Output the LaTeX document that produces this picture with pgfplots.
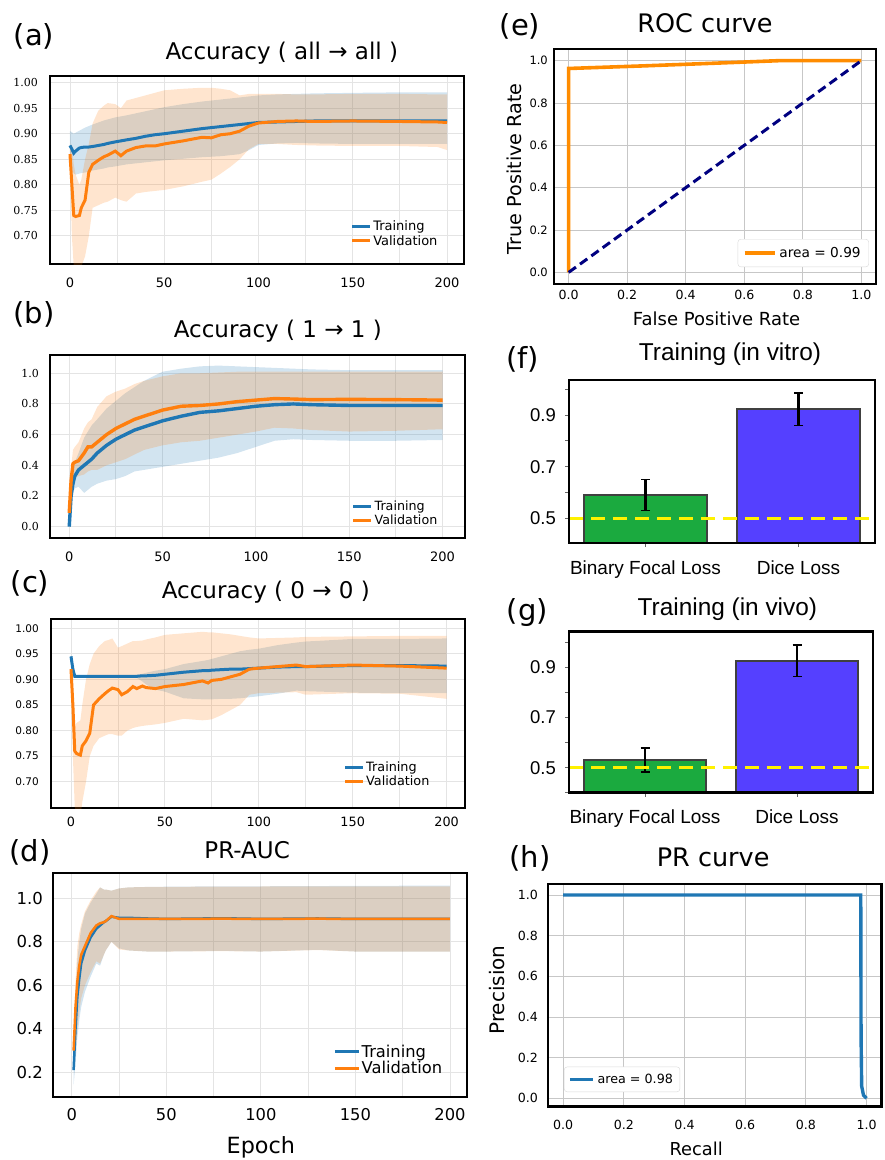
\documentclass[border=0pt]{standalone}
\usepackage{fontspec}
\setmainfont{DejaVu Sans}
\newfontfamily\dserif{DejaVu Serif}
\newfontfamily\arial{Liberation Sans}
\usepackage{pgfplots}
\usepackage{pgfplotstable}
\usepgfplotslibrary{fillbetween}
\pgfplotsset{compat=1.18}

\definecolor{tblue}{HTML}{1F77B4}
\definecolor{vorange}{HTML}{FF7F0E}
\definecolor{roc}{HTML}{FF8C00}
\definecolor{navyc}{HTML}{000080}
\definecolor{bgreen}{RGB}{27,170,63}
\definecolor{bblue}{RGB}{85,64,255}
\definecolor{gridc}{RGB}{228,228,228}
\newcommand{\fs}[1]{\fontsize{#1}{#1}\selectfont}

% epoch curves: x, training mean/low/high, validation mean/low/high
\pgfplotstableread{
x tm tlo thi vm vlo vhi
0 .877 .845 .905 .860 .850 .870
1 .870 .830 .903 .800 .700 .880
2 .862 .822 .900 .740 .640 .840
3 .866 .820 .902 .738 .620 .820
5 .872 .822 .906 .740 .630 .800
6 .873 .823 .908 .755 .640 .810
8 .874 .824 .912 .770 .660 .850
10 .874 .826 .915 .825 .700 .880
12 .875 .828 .918 .840 .755 .920
15 .877 .830 .922 .848 .760 .945
18 .879 .832 .926 .855 .765 .955
20 .881 .834 .928 .858 .767 .960
24 .884 .836 .932 .866 .775 .958
27 .886 .838 .934 .857 .770 .950
30 .888 .840 .936 .866 .767 .965
35 .891 .842 .940 .873 .783 .970
40 .895 .844 .944 .876 .786 .975
45 .898 .846 .948 .876 .788 .980
50 .900 .848 .952 .880 .790 .985
60 .905 .851 .958 .886 .797 .988
70 .910 .854 .963 .893 .806 .990
75 .912 .855 .965 .892 .810 .990
80 .914 .856 .967 .898 .822 .988
85 .916 .858 .969 .900 .835 .985
90 .918 .860 .971 .905 .850 .975
95 .920 .868 .973 .915 .870 .978
100 .922 .878 .975 .921 .880 .978
110 .923 .881 .977 .924 .880 .978
120 .924 .882 .978 .925 .878 .977
130 .925 .881 .979 .924 .877 .977
150 .925 .880 .980 .925 .876 .978
175 .925 .880 .981 .924 .876 .978
195 .925 .880 .981 .923 .874 .977
200 .925 .880 .981 .922 .868 .977
}\dA

\pgfplotstableread{
x tm tlo thi vm vlo vhi
0 .00 .00 .05 .09 .07 .12
1 .20 .15 .25 .30 .22 .38
2 .28 .22 .34 .41 .32 .50
3 .33 .25 .42 .42 .32 .52
5 .37 .26 .48 .43 .33 .55
8 .40 .22 .58 .48 .34 .64
10 .42 .24 .62 .52 .36 .68
12 .44 .26 .66 .52 .37 .70
15 .48 .28 .70 .55 .37 .78
20 .53 .30 .77 .60 .40 .85
25 .57 .31 .82 .64 .42 .88
30 .60 .33 .87 .67 .44 .90
35 .63 .36 .91 .70 .47 .93
40 .65 .37 .95 .72 .50 .95
50 .69 .39 1.01 .76 .53 .98
60 .72 .41 1.03 .785 .55 1.00
70 .745 .43 1.045 .79 .56 1.00
80 .755 .45 1.05 .80 .58 1.005
90 .77 .48 1.045 .815 .60 1.01
100 .785 .52 1.04 .825 .62 1.01
110 .795 .56 1.035 .835 .645 1.01
120 .80 .57 1.03 .832 .64 1.01
130 .795 .565 1.025 .828 .63 1.01
150 .79 .56 1.02 .83 .62 1.01
175 .79 .56 1.02 .828 .625 1.01
200 .79 .565 1.02 .825 .635 1.01
}\dB

\pgfplotstableread{
x tm tlo thi vm vlo vhi
0 .945 .943 .947 .920 .912 .928
1 .920 .918 .922 .850 .750 .900
2 .906 .904 .908 .760 .650 .810
3 .906 .904 .908 .755 .630 .815
5 .906 .904 .908 .752 .630 .820
6 .906 .904 .908 .770 .660 .850
8 .906 .904 .908 .780 .700 .900
10 .906 .904 .908 .795 .750 .930
12 .906 .904 .908 .850 .770 .950
15 .906 .904 .908 .862 .785 .965
18 .906 .904 .908 .872 .790 .975
20 .906 .904 .908 .878 .793 .977
22 .906 .904 .908 .883 .793 .980
25 .906 .904 .908 .880 .790 .962
27 .906 .904 .908 .870 .790 .965
30 .906 .904 .908 .876 .800 .970
33 .906 .904 .908 .886 .805 .975
35 .906 .903 .909 .882 .807 .975
38 .907 .896 .911 .887 .809 .976
40 .907 .890 .913 .884 .810 .978
45 .908 .880 .917 .882 .812 .982
50 .910 .876 .920 .886 .815 .987
60 .914 .863 .930 .890 .823 .990
70 .917 .861 .936 .897 .820 .993
73 .917 .861 .938 .893 .821 .992
75 .918 .861 .940 .898 .822 .992
80 .919 .862 .945 .900 .830 .990
85 .920 .862 .950 .905 .840 .988
90 .920 .863 .955 .910 .850 .985
95 .921 .865 .958 .920 .870 .982
100 .922 .867 .960 .922 .873 .980
110 .924 .872 .967 .925 .874 .981
120 .925 .878 .972 .928 .875 .982
125 .925 .877 .974 .925 .870 .983
150 .927 .874 .979 .928 .873 .984
175 .927 .873 .979 .926 .872 .985
200 .926 .873 .980 .922 .862 .985
}\dC

\pgfplotstableread{
x tm tlo thi vm vlo vhi
1 .21 .14 .27 .30 .22 .36
2 .40 .24 .55 .50 .30 .62
3 .55 .36 .72 .62 .40 .78
4 .63 .44 .80 .69 .48 .84
5 .70 .50 .86 .74 .54 .88
7 .76 .57 .93 .78 .60 .94
10 .82 .64 .98 .84 .66 .99
13 .86 .70 1.02 .875 .71 1.03
15 .875 .69 1.05 .885 .70 1.05
17 .89 .74 1.04 .89 .74 1.04
18 .895 .76 1.04 .895 .76 1.04
21 .915 .80 1.035 .918 .80 1.035
25 .91 .77 1.045 .905 .765 1.045
30 .91 .76 1.05 .905 .76 1.05
40 .907 .755 1.052 .905 .755 1.052
50 .905 .755 1.053 .905 .755 1.052
80 .908 .758 1.055 .906 .757 1.054
100 .905 .755 1.055 .905 .755 1.054
130 .907 .763 1.056 .906 .762 1.055
150 .905 .755 1.057 .905 .755 1.055
200 .905 .755 1.058 .905 .755 1.055
}\dD

\pgfplotsset{
  epochax/.style={
    scale only axis, anchor=south west,
    axis line style={line width=2.8pt},
    xtick={0,50,100,150,200}, minor xtick={25,75,125,175},
    xmajorgrids, xminorgrids, ymajorgrids,
    grid style={gridc, line width=0.9pt},
    minor grid style={gridc, line width=0.9pt},
    major tick length=0pt, minor tick length=0pt,
    /pgf/number format/assume math mode=true,
    yticklabel style={anchor=east, inner sep=0pt},
    xticklabel style={anchor=base, inner sep=0pt},
    title style={anchor=base, inner sep=0pt, font=\fs{23}},
    legend cell align=left,
    legend style={draw=none, fill=none, anchor=north west, inner sep=0pt,
      row sep=0pt, nodes={inner sep=1.5pt}},
    legend image code/.code={\draw[##1] (0pt,0pt) -- (18pt,0pt);},
  },
  curveax/.style={
    scale only axis, anchor=south west,
    axis line style={line width=2.8pt},
    xmin=-0.05, xmax=1.05,
    xtick={0,0.2,0.4,0.6,0.8,1}, ytick={0,0.2,0.4,0.6,0.8,1},
    grid=major, grid style={black!22, line width=0.9pt},
    major tick length=0pt,
    /pgf/number format/assume math mode=true,
    /pgf/number format/fixed, /pgf/number format/fixed zerofill,
    /pgf/number format/precision=1,
    yticklabel style={anchor=east, inner sep=0pt},
    xticklabel style={anchor=base, inner sep=0pt},
    title style={anchor=base, inner sep=0pt, font=\fs{25.5}},
    xlabel style={anchor=base, inner sep=0pt},
    ylabel style={anchor=base, inner sep=0pt},
    legend cell align=left,
    legend style={draw=black!15, rounded corners=3pt, nodes={inner sep=3pt}},
  },
  barax/.style={
    scale only axis, anchor=south west, axis on top,
    axis line style={line width=2.8pt},
    xmin=-0.5, xmax=1.5,
    xtick={0,1}, xticklabels={Binary Focal Loss, Dice Loss},
    ytick={0.5,0.7,0.9}, minor ytick={0.4,0.6,0.8,1.0},
    tick pos=left, tick align=outside,
    major tick length=4pt, minor tick length=4pt,
    every tick/.style={black!60, line width=0.8pt},
    /pgf/number format/assume math mode=true,
    yticklabel style={anchor=east, inner sep=0pt, xshift=-9pt, font=\arial\fs{18.5},
      /pgf/number format/fixed, /pgf/number format/fixed zerofill,
      /pgf/number format/precision=1},
    xticklabel style={anchor=base, inner sep=0pt, font=\arial\fs{19}},
    title style={anchor=base, inner sep=0pt, font=\arial\fs{24.4}},
  },
  errbar/.style={ybar, bar width=0.8, bar shift=0pt, draw=black!75, line width=1.8pt,
    error bars/.cd, y dir=both, y explicit,
    error bar style={line width=2.4pt, black},
    error mark options={rotate=90, mark size=4.5pt, line width=1.8pt, black}},
}

\begin{document}
\begin{tikzpicture}
\path (0pt,0pt) rectangle (885pt,-1160pt);

% (a)
\begin{axis}[epochax, at={(50pt,-264pt)}, width=414pt, height=188pt,
  xmin=-10.6, xmax=209, ymin=0.645, ymax=1.013,
  ytick={0.70,0.75,0.80,0.85,0.90,0.95,1.00},
  yticklabel style={font=\dserif\fs{11}, xshift=-12pt,
    /pgf/number format/fixed, /pgf/number format/fixed zerofill,
    /pgf/number format/precision=2},
  xticklabel style={font=\fs{13}, yshift=-23.75pt},
  title={Accuracy ( all → all )},
  title style={at={(axis description cs:0.56,1.0585)}},
  legend style={at={(axis description cs:0.726,0.239)}, font=\fs{13}},
]
\addplot[draw=none, forget plot, name path=ta] table[x=x, y=thi] {\dA};
\addplot[draw=none, forget plot, name path=tb] table[x=x, y=tlo] {\dA};
\addplot[fill=tblue, fill opacity=0.2, draw=none, forget plot] fill between[of=ta and tb];
\addplot[draw=none, forget plot, name path=va] table[x=x, y=vhi] {\dA};
\addplot[draw=none, forget plot, name path=vb] table[x=x, y=vlo] {\dA};
\addplot[fill=vorange, fill opacity=0.2, draw=none, forget plot] fill between[of=va and vb];
\addplot[tblue, line width=3pt] table[x=x, y=tm] {\dA};
\addplot[vorange, line width=3pt] table[x=x, y=vm] {\dA};
\legend{Training, Validation}
\end{axis}

% (b)
\begin{axis}[epochax, at={(50pt,-538pt)}, width=415pt, height=183pt,
  xmin=-10.3, xmax=212, ymin=-0.074, ymax=1.119,
  ytick={0,0.2,0.4,0.6,0.8,1.0},
  yticklabel style={font=\dserif\fs{11}, xshift=-11pt,
    /pgf/number format/fixed, /pgf/number format/fixed zerofill,
    /pgf/number format/precision=1},
  xticklabel style={font=\fs{13}, yshift=-23.75pt},
  title={Accuracy ( 1 → 1 )},
  title style={at={(axis description cs:0.549,1.064)}},
  legend style={at={(axis description cs:0.7265,0.213)}, font=\fs{12.7}},
]
\addplot[draw=none, forget plot, name path=ta] table[x=x, y=thi] {\dB};
\addplot[draw=none, forget plot, name path=tb] table[x=x, y=tlo] {\dB};
\addplot[fill=tblue, fill opacity=0.2, draw=none, forget plot] fill between[of=ta and tb];
\addplot[draw=none, forget plot, name path=va] table[x=x, y=vhi] {\dB};
\addplot[draw=none, forget plot, name path=vb] table[x=x, y=vlo] {\dB};
\addplot[fill=vorange, fill opacity=0.2, draw=none, forget plot] fill between[of=va and vb];
\addplot[tblue, line width=3.4pt] table[x=x, y=tm] {\dB};
\addplot[vorange, line width=3.4pt] table[x=x, y=vm] {\dB};
\legend{Training, Validation}
\end{axis}

% (c)
\begin{axis}[epochax, at={(51pt,-808pt)}, width=414pt, height=189pt,
  xmin=-10.65, xmax=209.8, ymin=0.6486, ymax=1.018,
  ytick={0.70,0.75,0.80,0.85,0.90,0.95,1.00},
  yticklabel style={font=\fs{10.5}, xshift=-12pt,
    /pgf/number format/fixed, /pgf/number format/fixed zerofill,
    /pgf/number format/precision=2},
  xticklabel style={font=\fs{12.8}, yshift=-18.4pt},
  title={Accuracy ( 0 → 0 )},
  title style={at={(axis description cs:0.519,1.079)}},
  legend style={at={(axis description cs:0.7065,0.254)}, font=\fs{12.8}},
]
\addplot[draw=none, forget plot, name path=ta] table[x=x, y=thi] {\dC};
\addplot[draw=none, forget plot, name path=tb] table[x=x, y=tlo] {\dC};
\addplot[fill=tblue, fill opacity=0.2, draw=none, forget plot] fill between[of=ta and tb];
\addplot[draw=none, forget plot, name path=va] table[x=x, y=vhi] {\dC};
\addplot[draw=none, forget plot, name path=vb] table[x=x, y=vlo] {\dC};
\addplot[fill=vorange, fill opacity=0.2, draw=none, forget plot] fill between[of=va and vb];
\addplot[tblue, line width=3pt] table[x=x, y=tm] {\dC};
\addplot[vorange, line width=3pt] table[x=x, y=vm] {\dC};
\legend{Training, Validation}
\end{axis}

% (d)
\begin{axis}[epochax, at={(53pt,-1097pt)}, width=414pt, height=224pt,
  xmin=-9.9, xmax=209, ymin=0.0864, ymax=1.116,
  ytick={0.2,0.4,0.6,0.8,1.0},
  yticklabel style={font=\fs{16.5}, xshift=-10pt,
    /pgf/number format/fixed, /pgf/number format/fixed zerofill,
    /pgf/number format/precision=1},
  xticklabel style={font=\fs{16.3}, yshift=-23pt},
  xlabel={Epoch},
  xlabel style={at={(axis description cs:0.502,-0.25)}, anchor=base, inner sep=0pt, font=\fs{22.3}},
  title={PR-AUC},
  title style={at={(axis description cs:0.469,1.036)}},
  legend style={at={(axis description cs:0.6775,0.241)}, font=\fs{16.3}},
  legend image code/.code={\draw[#1] (0pt,0pt) -- (24pt,0pt);},
]
\addplot[draw=none, forget plot, name path=ta] table[x=x, y=thi] {\dD};
\addplot[draw=none, forget plot, name path=tb] table[x=x, y=tlo] {\dD};
\addplot[fill=tblue, fill opacity=0.2, draw=none, forget plot] fill between[of=ta and tb];
\addplot[draw=none, forget plot, name path=va] table[x=x, y=vhi] {\dD};
\addplot[draw=none, forget plot, name path=vb] table[x=x, y=vlo] {\dD};
\addplot[fill=vorange, fill opacity=0.2, draw=none, forget plot] fill between[of=va and vb];
\addplot[tblue, line width=2.5pt] table[x=x, y=tm] {\dD};
\addplot[vorange, line width=2.5pt] table[x=x, y=vm] {\dD};
\legend{Training, Validation}
\end{axis}

% (e)
\begin{axis}[curveax, at={(554pt,-284pt)}, width=322pt, height=235pt,
  ymin=-0.055, ymax=1.055,
  yticklabel style={font=\fs{11.5}, xshift=-6pt},
  xticklabel style={font=\fs{12.6}, yshift=-15.6pt},
  xlabel={False Positive Rate}, ylabel={True Positive Rate},
  xlabel style={at={(axis description cs:0.505,-0.1745)}, font=\fs{18}},
  ylabel style={at={(axis description cs:-0.1003,0.49)}, font=\fs{19.2}},
  title={ROC curve},
  title style={at={(axis description cs:0.469,1.0455)}},
  legend style={at={(axis description cs:0.978,0.072)}, anchor=south east,
    inner sep=5pt, font=\fs{13.7}},
  legend image code/.code={\draw[#1] (0pt,0pt) -- (30pt,0pt);},
]
\addplot[roc, line width=3.6pt] coordinates {
  (0,0) (0,0.963) (0.25,0.975) (0.5,0.988) (0.72,1.0) (1,1)};
\addlegendentry{area = 0.99}
\addplot[navyc, line width=3pt, dash pattern=on 9pt off 5pt, forget plot]
  coordinates {(0,0) (1,1)};
\end{axis}

% (f)
\begin{axis}[barax, at={(569pt,-543pt)}, width=306pt, height=163pt,
  ymin=0.4044, ymax=1.0355,
  xticklabel style={yshift=-27pt},
  title={Training (in vitro)},
  title style={at={(axis description cs:0.526,1.0816)}},
]
\addplot[fill=bgreen, errbar] coordinates {(0,0.59) +- (0,0.06)};
\addplot[fill=bblue, errbar] coordinates {(1,0.922) +- (0,0.0625)};
\addplot[yellow, line width=2.8pt, dash pattern=on 14pt off 8pt]
  coordinates {(-0.5,0.5) (1.5,0.5)};
\end{axis}

% (g)
\begin{axis}[barax, at={(569pt,-792.7pt)}, width=304pt, height=161pt,
  ymin=0.40, ymax=1.042,
  xticklabel style={yshift=-26.3pt},
  title={Training (in vivo)},
  title style={at={(axis description cs:0.521,1.062)}},
]
\addplot[fill=bgreen, errbar] coordinates {(0,0.531) +- (0,0.048)};
\addplot[fill=bblue, errbar] coordinates {(1,0.926) +- (0,0.063)};
\addplot[yellow, line width=2.8pt, dash pattern=on 14pt off 8pt]
  coordinates {(-0.5,0.5) (1.5,0.5)};
\end{axis}

% (h)
\begin{axis}[curveax, at={(548pt,-1106.7pt)}, width=333.7pt, height=222.7pt,
  ymin=-0.041, ymax=1.054,
  yticklabel style={font=\fs{12.6}, xshift=-10pt},
  xticklabel style={font=\fs{12.6}, yshift=-22.9pt},
  xlabel={Recall}, ylabel={Precision},
  xlabel style={at={(axis description cs:0.444,-0.221)}, font=\fs{17.8}},
  ylabel style={at={(axis description cs:-0.129,0.524)}, font=\fs{20}},
  title={PR curve},
  title style={at={(axis description cs:0.495,1.051)}},
  legend style={at={(axis description cs:0.048,0.066)}, anchor=south west,
    inner sep=4pt, font=\fs{12.7}},
  legend image code/.code={\draw[#1] (0pt,0pt) -- (23pt,0pt);},
]
\addplot[tblue, line width=3.4pt] coordinates {
  (0,1) (0.981,1) (0.982,0.30) (0.984,0.06) (0.99,0.015) (1.0,0.0)};
\addlegendentry{area = 0.98}
\end{axis}

% panel letters
\node[anchor=base, font=\fs{29}] at (34pt,-45pt) {(a)};
\node[anchor=base, font=\fs{29}] at (34pt,-323pt) {(b)};
\node[anchor=base, font=\fs{29}] at (30pt,-592pt) {(c)};
\node[anchor=base, font=\fs{29}] at (30pt,-861pt) {(d)};
\node[anchor=base, font=\fs{29}] at (520pt,-35pt) {(e)};
\node[anchor=base, font=\fs{29}] at (522.5pt,-368pt) {(f)};
\node[anchor=base, font=\fs{29}] at (527.5pt,-620pt) {(g)};
\node[anchor=base, font=\fs{29}] at (530pt,-867pt) {(h)};
\end{tikzpicture}
\end{document}
